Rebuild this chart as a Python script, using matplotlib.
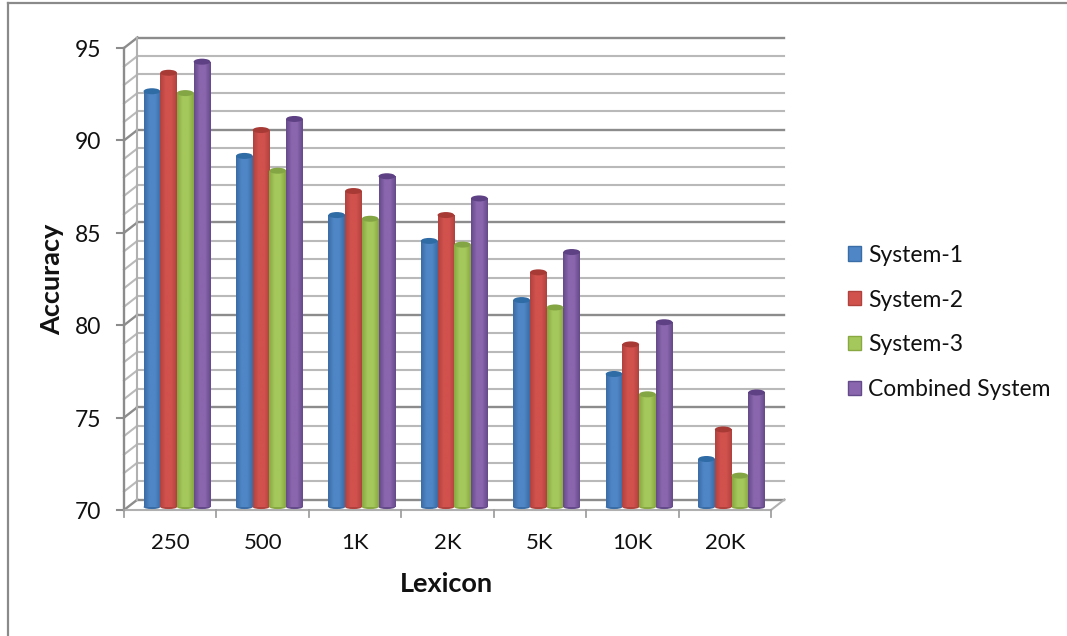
import numpy as np
import matplotlib
matplotlib.use("Agg")
import matplotlib.pyplot as plt
from matplotlib.colors import LinearSegmentedColormap
from matplotlib.lines import Line2D
from matplotlib.patches import Ellipse, Patch

plt.rcParams['font.family'] = ['Lato', 'DejaVu Sans']

lexicon = ["250", "500", "1K", "2K", "5K", "10K", "20K"]
system1 = [92.5, 89.0, 85.8, 84.4, 81.2, 77.2, 72.6]
system2 = [93.5, 90.4, 87.1, 85.8, 82.7, 78.8, 74.2]
system3 = [92.4, 88.2, 85.6, 84.2, 80.8, 76.1, 71.7]
combined = [94.1, 91.0, 87.9, 86.7, 83.8, 80.0, 76.2]
names = ["System-1", "System-2", "System-3", "Combined System"]
series = [system1, system2, system3, combined]

# edge, middle, top colour of each cylinder
colors = [("#3a6ca6", "#4f86c6", "#2f6ba5"),
          ("#b0423e", "#d1514d", "#a83a36"),
          ("#88a842", "#a5c85c", "#84a544"),
          ("#654a8a", "#8a66ae", "#5e4184")]

W, H = 1067, 636
fig = plt.figure(figsize=(W / 100, H / 100), dpi=100)
ax = fig.add_axes([124 / W, 1 - 510 / H, 647 / W, 462 / H])
ax.set_xlim(0, 7)
ax.set_ylim(70, 95)
ax.set_axis_off()
ax.set_autoscale_on(False)

# depth of the fake 3d box, in data units
dx = 13.5 / 92.43
dy = 10.5 / 18.48

# back wall and left wall grid
for v in range(70, 96):
    major = v % 5 == 0
    c = "#8c8c8c" if major else "#b9b9b9"
    lw = 1.7 if major else 1.5
    ax.plot([dx, 7 + dx], [v + dy, v + dy], color=c, lw=lw, clip_on=False, zorder=1)
    ax.plot([0, dx], [v, v + dy], color=c, lw=lw, clip_on=False, zorder=1)

# axes lines and ticks
ax.plot([0, 0], [70, 95], color="#8c8c8c", lw=1.7, clip_on=False, zorder=2)
ax.plot([dx, dx], [70 + dy, 95 + dy], color="#b0b0b0", lw=1.5, clip_on=False, zorder=1)
ax.plot([0, 7], [70, 70], color="#b0b0b0", lw=1.5, clip_on=False, zorder=2)
ax.plot([7, 7 + dx], [70, 70 + dy], color="#b0b0b0", lw=1.5, clip_on=False, zorder=2)
for v in range(70, 96, 5):
    ax.plot([-7 / 92.43, 0], [v, v], color="#8c8c8c", lw=1.5, clip_on=False, zorder=2)
    ax.text(-23 / 92.43, v - 2.5 / 18.48, str(v), ha="right", va="center", fontsize=16.5, color="#111111")
for i in range(8):
    ax.plot([i, i], [70, 70 - 7 / 18.48], color="#a0a0a0", lw=1.3, clip_on=False, zorder=2)
for i, lab in enumerate(lexicon):
    ax.text(i + 0.5, 70 - 33 / 18.48, lab, ha="center", va="center", fontsize=16, color="#111111")

# cylinders
bw = 16.7 / 92.43
base = 70.16
z = 3
for s, vals in enumerate(series):
    edge, mid, top = colors[s]
    cmap = LinearSegmentedColormap.from_list("c", [edge, mid, mid, edge])
    grad = np.linspace(0, 1, 40).reshape(1, -1)
    xs = np.arange(7) + 0.5 + dx / 2 + (s - 1.5) * bw
    bars = ax.bar(xs, np.array(vals) + 0.16 - base, bw, bottom=base, color=mid, zorder=z, clip_on=False)
    for b in bars:
        x0, y0, w, h = b.get_x(), b.get_y(), b.get_width(), b.get_height()
        ax.add_patch(Ellipse((x0 + w / 2, y0), w, 4 / 18.48, facecolor=edge, lw=0, zorder=z, clip_on=False))
        im = ax.imshow(grad, cmap=cmap, extent=[x0, x0 + w, y0, y0 + h], aspect="auto", zorder=z + 0.1)
        im.set_clip_path(b)
        ax.add_patch(Ellipse((x0 + w / 2, y0 + h), w, 6 / 18.48, facecolor=top, lw=0, zorder=z + 0.2, clip_on=False))
ax.set_xlim(0, 7)
ax.set_ylim(70, 95)

fig.text(52 / W, 1 - 279 / H, "Accuracy", rotation=90, ha="center", va="center",
         fontsize=19.5, fontweight="bold", color="#111111")
fig.text(446 / W, 1 - 584 / H, "Lexicon", ha="center", va="center",
         fontsize=19.5, fontweight="bold", color="#111111")

handles = [Patch(facecolor=c[1], edgecolor=c[0]) for c in colors]
fig.legend(handles, names, loc="center left", bbox_to_anchor=(848 / W, 1 - 322.5 / H),
           frameon=False, fontsize=16.5, handlelength=0.57, handleheight=0.57,
           handletextpad=0.3, labelspacing=1.044, labelcolor="#111111",
           borderpad=0, borderaxespad=0)

# outer chart frame, only top and left show
fig.add_artist(Line2D([8 / W, 8 / W], [0, 1 - 2.5 / H], color="#8a8a8a", lw=1.6))
fig.add_artist(Line2D([8 / W, 1], [1 - 2.5 / H, 1 - 2.5 / H], color="#8a8a8a", lw=1.6))

fig.savefig("out.png", dpi=100)
